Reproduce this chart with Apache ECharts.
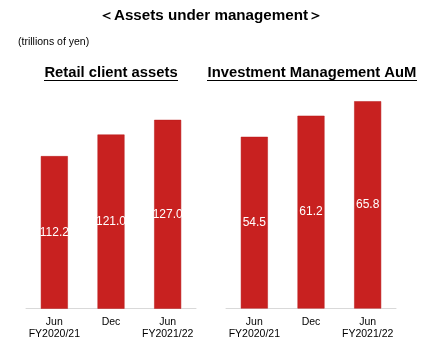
<!DOCTYPE html>
<html><head><meta charset="utf-8">
<script src="https://cdn.jsdelivr.net/npm/echarts@6/dist/echarts.min.js"></script>
<style>html,body{margin:0;padding:0;background:#fff}#c{width:440px;height:359px}</style>
</head><body><div id="c"></div>
<script>
const mainTitle = '＜Assets under management＞';
const unitNote = '(trillions of yen)';
const panelTitles = ['Retail client assets', 'Investment Management AuM'];
const categories = ['Jun\nFY2020/21', 'Dec', 'Jun\nFY2021/22'];
const retailValues = [112.2, 121.0, 127.0];
const aumValues = [54.5, 61.2, 65.8];

const FONT = 'Arial, "Liberation Sans", sans-serif';
const RED = '#C82120';
const chart = echarts.init(document.getElementById('c'));

function xAxis(idx) {
  return {
    type: 'category', gridIndex: idx, data: categories,
    axisLine: { lineStyle: { color: '#D9D9D9', width: 1 } },
    axisTick: { show: false },
    axisLabel: { color: '#000', fontFamily: FONT, fontSize: 10.5, lineHeight: 12, margin: 8, interval: 0 }
  };
}
function yAxis(idx, min, max) {
  return { type: 'value', gridIndex: idx, min: min, max: max, show: false, splitLine: { show: false } };
}
function bars(idx, data) {
  return {
    type: 'bar', xAxisIndex: idx, yAxisIndex: idx, data: data, barWidth: 27,
    itemStyle: { color: RED, borderColor: '#B81818', borderWidth: 0.5 },
    label: { show: true, position: 'inside', color: '#fff', fontFamily: FONT, fontSize: 12,
             formatter: p => p.value.toFixed(1) }
  };
}

chart.setOption({
  animation: false,
  backgroundColor: '#fff',
  title: [
    { text: mainTitle, left: 211, textAlign: 'center', top: 8, padding: 0, textStyle: { fontFamily: FONT, fontSize: 15.2, fontWeight: 'bold', color: '#000' } },
    { text: unitNote, left: 18, top: 37, padding: 0, textStyle: { fontFamily: FONT, fontSize: 10.5, fontWeight: 'normal', color: '#000' } },
    { text: panelTitles[0], left: 111, textAlign: 'center', top: 65, padding: 0, textStyle: { fontFamily: FONT, fontSize: 14.8, fontWeight: 'bold', color: '#000' } },
    { text: panelTitles[1], left: 312, textAlign: 'center', top: 65, padding: 0, textStyle: { fontFamily: FONT, fontSize: 14.8, fontWeight: 'bold', color: '#000' } }
  ],
  graphic: [
    { type: 'line', shape: { x1: 44, y1: 80.5, x2: 178, y2: 80.5 }, style: { stroke: '#000', lineWidth: 1 } },
    { type: 'line', shape: { x1: 207, y1: 80.5, x2: 417, y2: 80.5 }, style: { stroke: '#000', lineWidth: 1 } }
  ],
  grid: [
    { left: 26, width: 170, top: 88, bottom: 50.5 },
    { left: 226, width: 170, top: 88, bottom: 50.5 }
  ],
  xAxis: [xAxis(0), xAxis(1)],
  yAxis: [yAxis(0, 50, 140), yAxis(1, 0, 70)],
  series: [bars(0, retailValues), bars(1, aumValues)]
});
</script></body></html>
